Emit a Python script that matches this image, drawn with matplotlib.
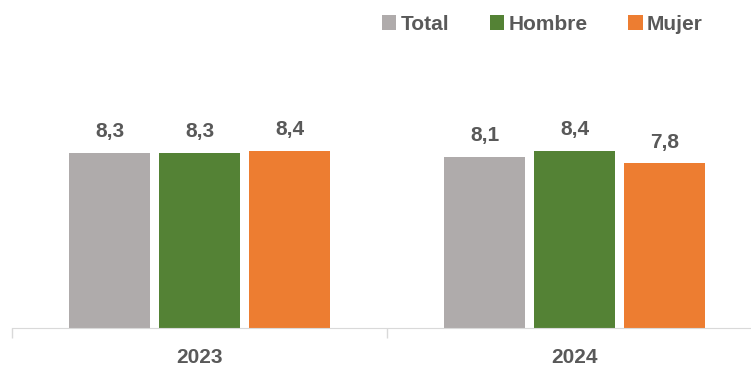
import matplotlib.pyplot as plt
import numpy as np

# data
years = ['2023', '2024']
series = ['Total', 'Hombre', 'Mujer']
total = [8.3, 8.1]
hombre = [8.3, 8.4]
mujer = [8.4, 7.8]
colors = ['#AFABAB', '#548235', '#ED7D31']

plt.rcParams['font.family'] = ['Liberation Sans Narrow', 'Liberation Sans', 'DejaVu Sans']
text_color = '#595959'

fig = plt.figure(figsize=(7.51, 3.70), dpi=100)
W, H = 751, 370
bottom_px, top_px = 328, 50
ax = fig.add_axes([12 / W, 1 - bottom_px / H, 750 / W, (bottom_px - top_px) / H])

x = np.arange(len(years))
width = 0.216
step = 0.24
for i, (name, vals) in enumerate(zip(series, [total, hombre, mujer])):
    pos = x + (i - 1) * step
    bars = ax.bar(pos, vals, width, color=colors[i], label=name, zorder=2)
    for b, v in zip(bars, vals):
        ax.text(b.get_x() + b.get_width() / 2, v + 0.55, f'{v:.1f}'.replace('.', ','),
                ha='center', va='bottom', fontsize=15, fontweight='bold', color=text_color)

ax.set_xlim(-0.5, 1.5)
ax.set_ylim(0, (bottom_px - top_px) / 21.1)
ax.set_yticks([])
ax.set_xticks([-0.5, 0.5])
ax.set_xticklabels([])
ax.tick_params(axis='x', length=7, color='#D9D9D9', width=1)
for s in ['top', 'right', 'left']:
    ax.spines[s].set_visible(False)
ax.spines['bottom'].set_color('#D9D9D9')

for xi, yr in zip(x, years):
    ax.text(xi, -0.95, yr, ha='center', va='top', fontsize=15, fontweight='bold',
            color=text_color, transform=ax.transData, clip_on=False)

leg = fig.legend(loc='upper left', bbox_to_anchor=(363 / W, 1 + 4 / H), ncol=3, frameon=False,
                 fontsize=15, handlelength=0.7, handleheight=0.7, handletextpad=0.2,
                 columnspacing=1.95)
for t in leg.get_texts():
    t.set_color(text_color)
    t.set_fontweight('bold')

fig.savefig('out.png', dpi=100)
